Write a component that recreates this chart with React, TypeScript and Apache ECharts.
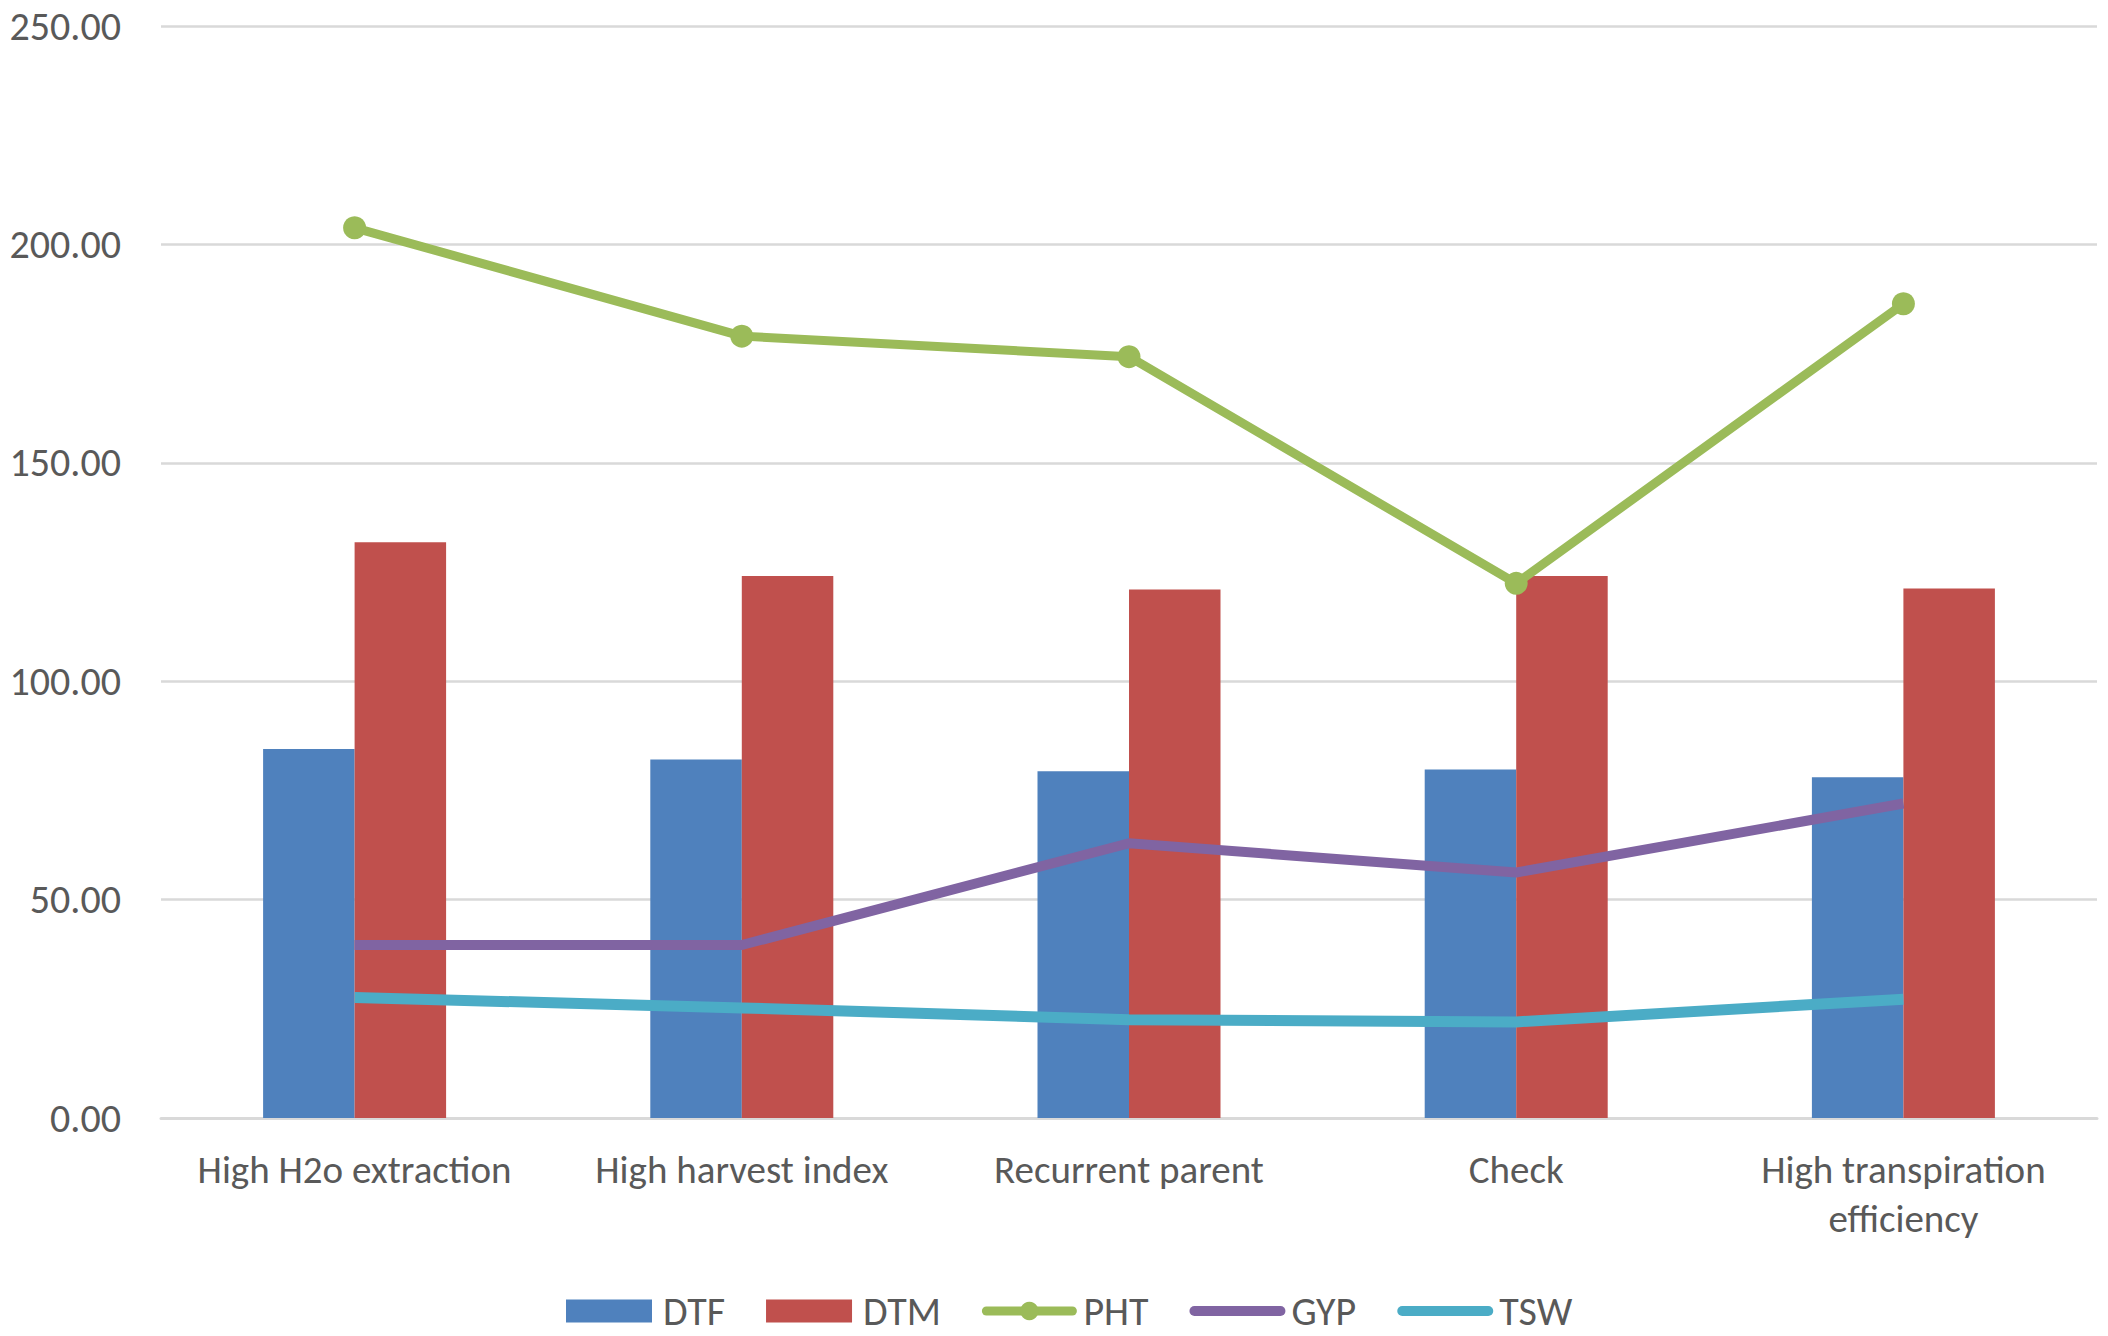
import React, { useEffect, useRef } from "react";
import * as echarts from "echarts";

const categories = [
  "High H2o extraction",
  "High harvest index",
  "Recurrent parent",
  "Check",
  "High transpiration efficiency",
];
const DTF = [84.5, 82.1, 79.4, 79.8, 78.0];
const DTM = [131.8, 124.1, 121.0, 124.1, 121.2];
const PHT = [203.8, 179.0, 174.3, 122.4, 186.4];
const GYP = [39.6, 39.6, 62.9, 56.2, 72.0];
const TSW = [27.6, 25.2, 22.5, 22.0, 27.2];
const yTicks = { min: 0, max: 250, interval: 50 };

const FONT = "Carlito, Calibri, Lato, sans-serif";
const TEXT = "#595959";
const C_DTF = "#4F81BD";
const C_DTM = "#C0504D";
const C_PHT = "#9BBB59";
const C_GYP = "#8064A2";
const C_TSW = "#4BACC6";

function wrap(v: string): string {
  if (v.length <= 22) return v;
  const i = v.lastIndexOf(" ");
  return v.slice(0, i) + "\n" + v.slice(i + 1);
}

export default function App() {
  const ref = useRef<HTMLDivElement>(null);
  useEffect(() => {
    if (!ref.current) return;
    const chart = echarts.init(ref.current, null, { renderer: "svg" });
    chart.setOption({
      animation: false,
      backgroundColor: "#ffffff",
      textStyle: { fontFamily: FONT, color: TEXT },
      grid: { left: 161, right: 11, top: 26, bottom: 218, containLabel: false },
      legend: {
        bottom: 0,
        left: 561,
        itemWidth: 86,
        itemHeight: 23,
        itemGap: 41,
        textStyle: { fontFamily: FONT, fontSize: 40, color: TEXT, padding: [0, 0, 0, 6] },
        data: [
          { name: "DTF", icon: "rect" },
          { name: "DTM", icon: "rect" },
          {
            name: "PHT",
            lineStyle: { color: C_PHT, width: 9, cap: "round" },
            itemStyle: { color: C_PHT },
          },
          {
            name: "GYP",
            lineStyle: { color: C_GYP, width: 10, cap: "round" },
            itemStyle: { opacity: 0 },
          },
          {
            name: "TSW",
            lineStyle: { color: C_TSW, width: 10, cap: "round" },
            itemStyle: { opacity: 0 },
          },
        ],
      },
      xAxis: {
        type: "category",
        data: categories,
        axisLine: { lineStyle: { color: "#D9D9D9", width: 3 } },
        axisTick: { show: false },
        axisLabel: {
          fontFamily: FONT,
          fontSize: 39,
          color: TEXT,
          margin: 27,
          lineHeight: 49,
          interval: 0,
          formatter: (v: string) => wrap(v),
        },
        splitLine: { show: false },
      },
      yAxis: {
        type: "value",
        min: yTicks.min,
        max: yTicks.max,
        interval: yTicks.interval,
        axisLine: { show: false },
        axisTick: { show: false },
        axisLabel: {
          fontFamily: FONT,
          fontSize: 40,
          color: TEXT,
          margin: 40,
          formatter: (v: number) => v.toFixed(2),
        },
        splitLine: { lineStyle: { color: "#D9D9D9", width: 2.5 } },
      },
      series: [
        {
          name: "DTF",
          type: "bar",
          data: DTF,
          barWidth: 91.5,
          barGap: "0%",
          itemStyle: { color: C_DTF },
        },
        {
          name: "DTM",
          type: "bar",
          data: DTM,
          barWidth: 91.5,
          barGap: "0%",
          itemStyle: { color: C_DTM },
        },
        {
          name: "PHT",
          type: "line",
          data: PHT,
          symbol: "circle",
          symbolSize: 23,
          lineStyle: { color: C_PHT, width: 9 },
          itemStyle: { color: C_PHT },
          z: 5,
        },
        {
          name: "GYP",
          type: "line",
          data: GYP,
          symbol: "none",
          lineStyle: { color: C_GYP, width: 10 },
          itemStyle: { color: C_GYP },
          z: 5,
        },
        {
          name: "TSW",
          type: "line",
          data: TSW,
          symbol: "none",
          lineStyle: { color: C_TSW, width: 11 },
          itemStyle: { color: C_TSW },
          z: 5,
        },
      ],
    });
    return () => chart.dispose();
  }, []);
  return (
    <div
      ref={ref}
      style={{ position: "fixed", left: 0, top: 0, width: 2108, height: 1336, background: "#fff" }}
    />
  );
}
